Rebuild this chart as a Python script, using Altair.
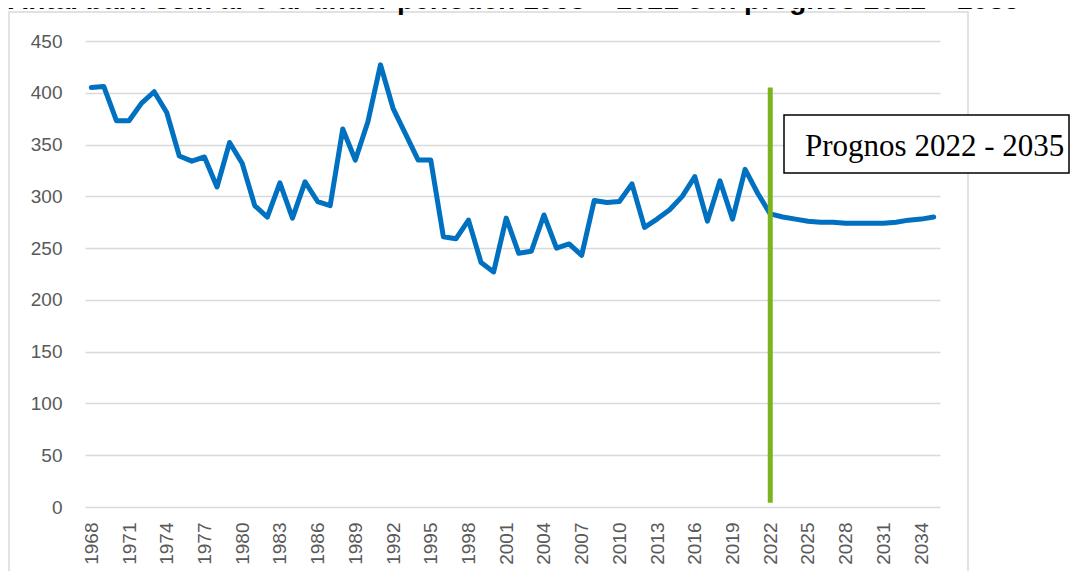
import altair as alt
import pandas as pd

hist_years = list(range(1968, 2022))
hist_values = [405, 406, 373, 373, 390, 401, 381, 339, 334, 338,
               309, 352, 332, 291, 280, 313, 279, 314, 295, 291,
               365, 335, 372, 427, 385, 360, 335, 335, 261, 259,
               277, 236, 227, 279, 245, 247, 282, 250, 254, 243,
               296, 294, 295, 312, 270, 278, 287, 300, 319, 276,
               315, 278, 326, 303]
prog_years = list(range(2022, 2036))
prog_values = [283, 280, 278, 276, 275, 275, 274, 274, 274, 274, 275, 277, 278, 280]

tick_years = list(range(1968, 2036, 3))
y_ticks = list(range(0, 451, 50))

divider_year = [2022]
divider_top = [405]
divider_bottom = [4]

title_text = "Antal barn som är 0 år under perioden 1968 – 2021 och prognos 2022 – 2035"
box_text = "Prognos 2022 - 2035"

df = pd.DataFrame({"year": hist_years + prog_years, "value": hist_values + prog_values})
df_rule = pd.DataFrame({"year": divider_year, "top": divider_top, "bottom": divider_bottom})
one = pd.DataFrame({"a": [0]})

xscale = alt.Scale(type="point", padding=0.5)
font = "Liberation Sans"

border = alt.Chart(one).mark_rect(fillOpacity=0, stroke="#D9D9D9", strokeWidth=1.5).encode(
    x=alt.value(-76), x2=alt.value(883), y=alt.value(-29), y2=alt.value(620)
)

line = alt.Chart(df).mark_line(color="#0070C0", strokeWidth=5, strokeJoin="round", strokeCap="round").encode(
    x=alt.X("year:O", scale=xscale,
            axis=alt.Axis(values=tick_years, labelAngle=-90, grid=False, domain=False, ticks=False,
                          tickSize=0, labelPadding=15, labelFont=font, labelFontSize=19,
                          labelColor="#595959", title=None)),
    y=alt.Y("value:Q", scale=alt.Scale(domain=[0, 450], nice=False),
            axis=alt.Axis(values=y_ticks, grid=True, gridColor="#D9D9D9", gridWidth=1.5,
                          domain=False, ticks=False, tickSize=0, labelPadding=23, labelFont=font,
                          labelFontSize=19, labelColor="#595959", title=None)),
)

rule = alt.Chart(df_rule).mark_rule(color="#7AB51D", strokeWidth=5).encode(
    x=alt.X("year:O", scale=xscale), y="top:Q", y2="bottom:Q"
)

box = alt.Chart(one).mark_rect(fill="white", stroke="black", strokeWidth=1.5).encode(
    x=alt.value(699), x2=alt.value(984), y=alt.value(74), y2=alt.value(132)
)

box_label = alt.Chart(one).mark_text(text=box_text, font="Liberation Serif", fontSize=31,
                                      align="left", baseline="alphabetic", color="black").encode(
    x=alt.value(720), y=alt.value(115)
)

title = alt.Chart(one).mark_text(text=title_text, font=font, fontSize=28, fontWeight="bold",
                                 align="left", baseline="alphabetic", color="black").encode(
    x=alt.value(-77), y=alt.value(-32)
)

chart = alt.layer(border, line, rule, box, box_label, title).properties(
    width=855, height=466,
    padding={"left": 77, "top": 33, "right": 130, "bottom": 64},
    autosize=alt.AutoSizeParams(type="none"),
    background="white",
).configure_view(stroke=None)

chart.save("out.html", embed_options={"renderer": "svg", "actions": False})
